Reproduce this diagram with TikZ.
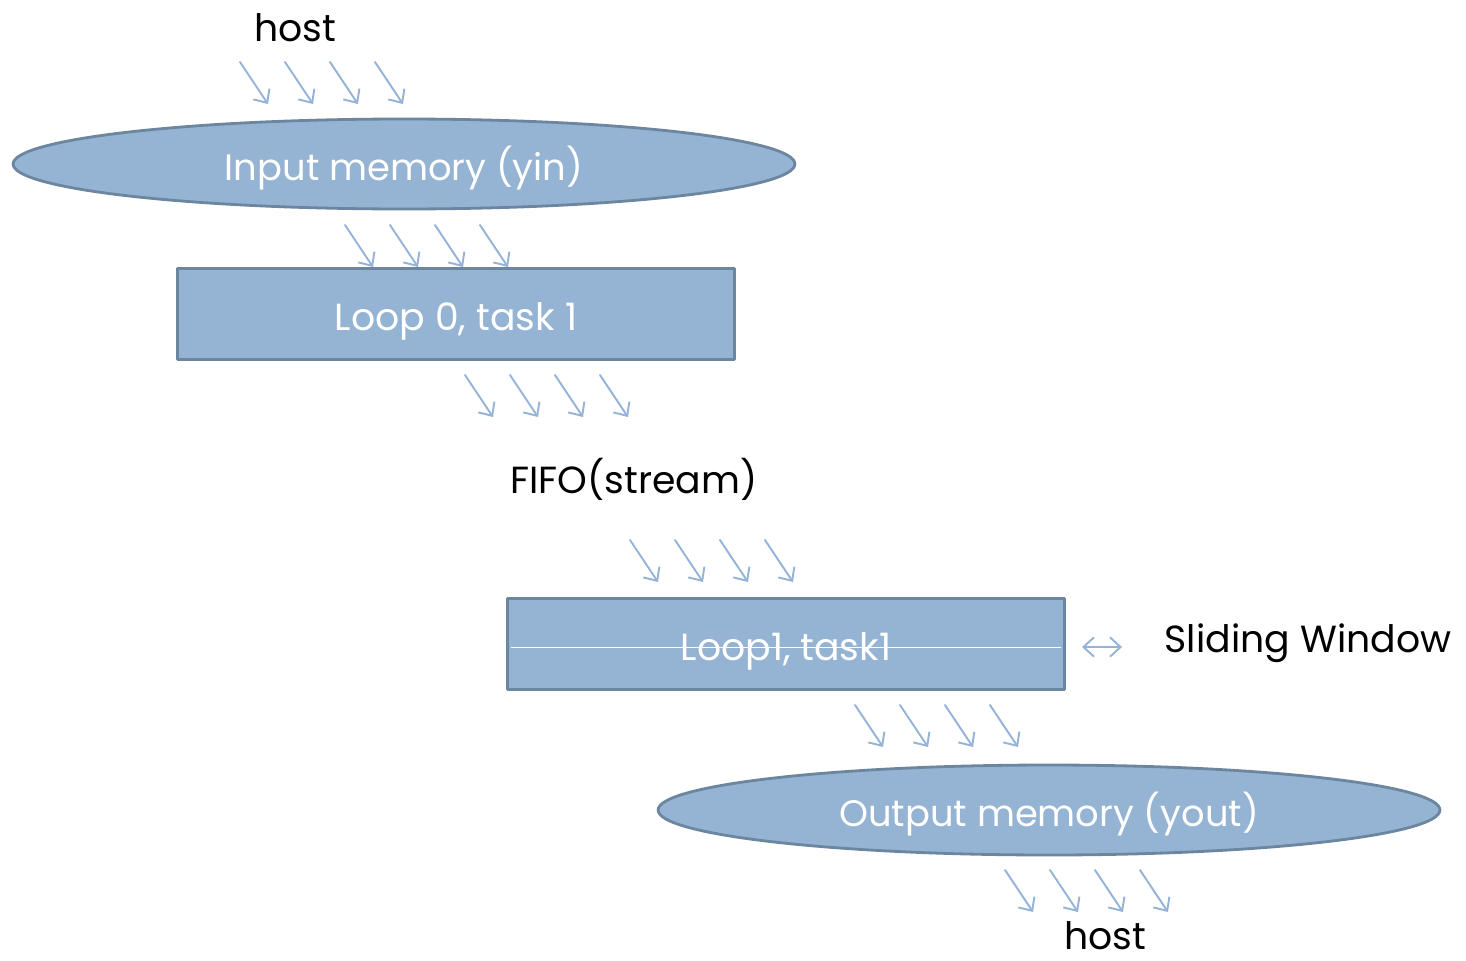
\documentclass[tikz,border=0pt]{standalone}
\usepackage{fontspec}
\setmainfont{Poppins}
\usetikzlibrary{arrows.meta,shapes.geometric}
\definecolor{fillblue}{HTML}{95B3D3}
\definecolor{edgeblue}{HTML}{6C86A0}
\definecolor{flowblue}{HTML}{95B3D7}
\tikzset{
  every picture/.style={line join=round, line cap=round, >=Stealth},
  memory/.style={ellipse, draw=edgeblue, fill=fillblue, line width=1.6pt, text=white,
    minimum width=15.64cm, minimum height=1.8cm, inner sep=0pt, text height=19pt, text depth=0pt,
    font=\fontsize{21}{25}\selectfont},
  taskbox/.style={rectangle, draw=edgeblue, fill=fillblue, line width=1.6pt, text=white,
    minimum width=11.14cm, minimum height=1.82cm, inner sep=0pt, text height=19pt, text depth=0pt,
    font=\fontsize{21.5}{25}\selectfont},
  plain/.style={text=black, inner sep=0pt, font=\fontsize{21.5}{25}\selectfont},
  flow/.style={draw=flowblue, line width=1.1pt, -{Straight Barb[length=6pt,width=11pt]}},
}
\begin{document}
\begin{tikzpicture}[x=0.02cm,y=-0.02cm]
\useasboundingbox (0,0) rectangle (1466,960);
\node[plain](hostin) at (295,28) {host};
\node[memory](yin) at (404,164) {Input memory (yin)};
\node[taskbox](loopA) at (456,314) {Loop 0, task 1};
\node[plain](fifo) at (634,479) {FIFO(stream)};
\node[taskbox](loopB) at (786,644) {Loop1, task1};
\node[plain](slide) at (1308,643) {Sliding Window};
\node[memory](yout) at (1049,810) {Output memory (yout)};
\node[plain](hostout) at (1105,936) {host};
% strike line through the second loop box
\draw[white, line width=0.6pt]([xshift=3,yshift=-2]loopB.west)--([xshift=-3,yshift=-2]loopB.east);
% rows of transfer arrows
\coordinate(r1) at (240,62);
\coordinate(r2) at (345,225);
\coordinate(r3) at (465,375);
\coordinate(r4) at (630,540);
\coordinate(r5) at (855,705);
\coordinate(r6) at (1005,870);
\foreach \r in {r1,r2,r3,r4,r5,r6}
  \foreach \i in {0,...,3}
    \draw[flow]([xshift=\i*0.9cm]\r)--++(28,42);
\coordinate(w1) at (1082,647);
\coordinate(w2) at (1122,647);
\draw[flow,{Straight Barb[length=6pt,width=11pt]}-{Straight Barb[length=6pt,width=11pt]}](w1)--(w2);
\end{tikzpicture}
\end{document}
